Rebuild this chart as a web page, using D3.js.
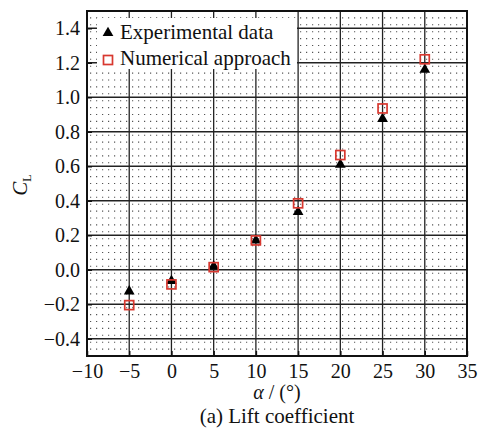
<!DOCTYPE html>
<head>
  <meta charset="utf-8" />
  <script src="https://d3js.org/d3.v7.min.js"></script>
  <style>
    body { margin: 0; background: #fff; }
    text { font-family: "Liberation Serif", "Times New Roman", serif; fill: #111; }
  </style>
</head>
<body>
  <script>
    // angle of attack and lift coefficient
    var alpha = [-5, 0, 5, 10, 15, 20, 25, 30];
    var clExp = [-0.125, -0.065, 0.02, 0.17, 0.335, 0.61, 0.875, 1.16];
    var clNum = [-0.205, -0.085, 0.015, 0.17, 0.385, 0.665, 0.935, 1.22];
    var xTicks = [-10, -5, 0, 5, 10, 15, 20, 25, 30, 35];
    var yTicks = [-0.4, -0.2, 0.0, 0.2, 0.4, 0.6, 0.8, 1.0, 1.2, 1.4];
    var legendLabels = ["Experimental data", "Numerical approach"];

    var width = 479, height = 429;
    var pl = 87, pr = 467, pt = 11, pb = 356;
    var red = "#d8382f";

    var svg = d3.select("body").append("svg")
      .attr("width", width)
      .attr("height", height);

    var x = d3.scaleLinear().domain([-10, 35]).range([pl, pr]);
    var y = d3.scaleLinear().domain([-0.5, 1.5]).range([pb, pt]);

    // minor dotted grid (5 divisions per major step)
    var g = svg.append("g");
    var yMinor = d3.range(-0.5, 1.501, 0.04);
    g.selectAll(".hmin").data(yMinor).join("line")
      .attr("y1", d => y(d)).attr("y2", d => y(d))
      .attr("x1", pl + 3).attr("x2", pr)
      .attr("stroke", "#555").attr("stroke-width", 1.1)
      .attr("stroke-dasharray", "1.2,4.8");

    // major grid
    g.selectAll(".vmaj").data(xTicks).join("line")
      .attr("x1", d => x(d)).attr("x2", d => x(d))
      .attr("y1", pt).attr("y2", pb)
      .attr("stroke", "#222").attr("stroke-width", 1.3);
    g.selectAll(".hmaj").data(yTicks).join("line")
      .attr("y1", d => y(d)).attr("y2", d => y(d))
      .attr("x1", pl).attr("x2", pr)
      .attr("stroke", "#222").attr("stroke-width", 1.3);

    // legend background
    svg.append("rect")
      .attr("x", 97).attr("y", 18)
      .attr("width", 200).attr("height", 51)
      .attr("fill", "#fff");

    // axes with inward ticks
    var fmt = d3.format(".1f");
    var xAxis = svg.append("g")
      .attr("transform", "translate(0," + pb + ")")
      .call(d3.axisBottom(x).tickValues(xTicks).tickSize(-5).tickPadding(8));
    var yAxis = svg.append("g")
      .attr("transform", "translate(" + pl + ",0)")
      .call(d3.axisLeft(y).tickValues(yTicks).tickFormat(fmt).tickSize(-5).tickPadding(7));
    [xAxis, yAxis].forEach(a => {
      a.select(".domain").remove();
      a.selectAll("line").attr("stroke", "#111").attr("stroke-width", 1.5);
      a.selectAll("text").attr("font-size", 20)
        .attr("font-family", "Liberation Serif").attr("fill", "#111");
    });

    // frame
    svg.append("rect")
      .attr("x", pl).attr("y", pt)
      .attr("width", pr - pl).attr("height", pb - pt)
      .attr("fill", "none").attr("stroke", "#111").attr("stroke-width", 2);

    // data
    var tri = d3.symbol().type(d3.symbolTriangle).size(50);
    svg.selectAll(".exp").data(alpha).join("path")
      .attr("d", tri)
      .attr("transform", (d, i) => "translate(" + x(d) + "," + y(clExp[i]) + ")")
      .attr("fill", "#000");
    svg.selectAll(".num").data(alpha).join("rect")
      .attr("x", d => x(d) - 4.5)
      .attr("y", (d, i) => y(clNum[i]) - 4.5)
      .attr("width", 9).attr("height", 9)
      .attr("fill", "none").attr("stroke", red).attr("stroke-width", 1.7);

    // legend
    svg.append("path").attr("d", tri)
      .attr("transform", "translate(108,33)").attr("fill", "#000");
    svg.append("rect")
      .attr("x", 103.5).attr("y", 55.5).attr("width", 9).attr("height", 9)
      .attr("fill", "none").attr("stroke", red).attr("stroke-width", 1.7);
    svg.selectAll(".leg").data(legendLabels).join("text")
      .attr("x", 120).attr("y", (d, i) => 38.5 + i * 26)
      .attr("font-size", 21)
      .text(d => d);

    // axis labels
    var xl = svg.append("text")
      .attr("x", (pl + pr) / 2).attr("y", 399)
      .attr("text-anchor", "middle").attr("font-size", 20);
    xl.append("tspan").attr("font-style", "italic").text("α");
    xl.append("tspan").text(" / (°)");

    var yl = svg.append("text")
      .attr("transform", "translate(27,185) rotate(-90)")
      .attr("text-anchor", "middle").attr("font-size", 21);
    yl.append("tspan").attr("font-style", "italic").text("C");
    yl.append("tspan").attr("font-size", 12).attr("dy", 4).text("L");

    svg.append("text")
      .attr("x", (pl + pr) / 2).attr("y", 423)
      .attr("text-anchor", "middle").attr("font-size", 21)
      .text("(a) Lift coefficient");
  </script>
</body>
